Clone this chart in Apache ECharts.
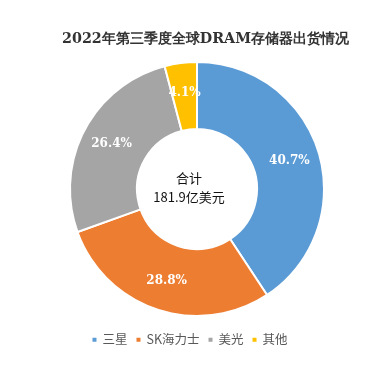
<!DOCTYPE html>
<html>
<head>
<meta charset="utf-8">
<script src="https://cdn.jsdelivr.net/npm/echarts@6/dist/echarts.min.js"></script>
<style>
  html, body { margin: 0; padding: 0; background: #fff; }
  #chart { width: 378px; height: 378px; }
</style>
</head>
<body>
<div id="chart"></div>
<script>
  // 数据
  const names = ['三星', 'SK海力士', '美光', '其他'];
  const shares = [40.7, 28.8, 26.4, 4.1];
  const colors = ['#5B9BD5', '#ED7D31', '#A5A5A5', '#FFC000'];
  const totalText = '合计\n181.9亿美元';

  const chart = echarts.init(document.getElementById('chart'));

  chart.setOption({
    animation: false,
    title: {
      text: '2022年第三季度全球DRAM存储器出货情况',
      left: 57,
      top: 27,
      textStyle: {
        fontFamily: 'DejaVu Serif, serif',
        fontWeight: 'bold',
        fontSize: 14.3,
        color: '#333'
      }
    },
    legend: {
      bottom: 27,
      left: 'center',
      itemWidth: 6,
      itemHeight: 6,
      itemGap: 7,
      icon: 'rect',
      textStyle: { fontSize: 12.5, color: '#595959', fontFamily: 'Noto Sans CJK SC' },
      data: names
    },
    graphic: [{
      type: 'text',
      left: 'center',
      top: 169,
      style: {
        text: totalText,
        textAlign: 'center',
        fill: '#111',
        fontSize: 13,
        lineHeight: 19,
        fontFamily: 'Noto Sans CJK SC'
      }
    }],
    series: [{
      type: 'pie',
      center: [197, 189],
      radius: [60, 127],
      startAngle: 90,
      clockwise: true,
      itemStyle: { borderColor: '#fff', borderWidth: 2 },
      label: {
        position: 'inside',
        formatter: '{c}%',
        color: '#fff',
        fontFamily: 'DejaVu Serif, serif',
        fontWeight: 'bold',
        fontSize: 12
      },
      labelLine: { show: false },
      data: names.map((n, i) => ({
        name: n,
        value: shares[i],
        itemStyle: { color: colors[i] }
      }))
    }]
  });
</script>
</body>
</html>
